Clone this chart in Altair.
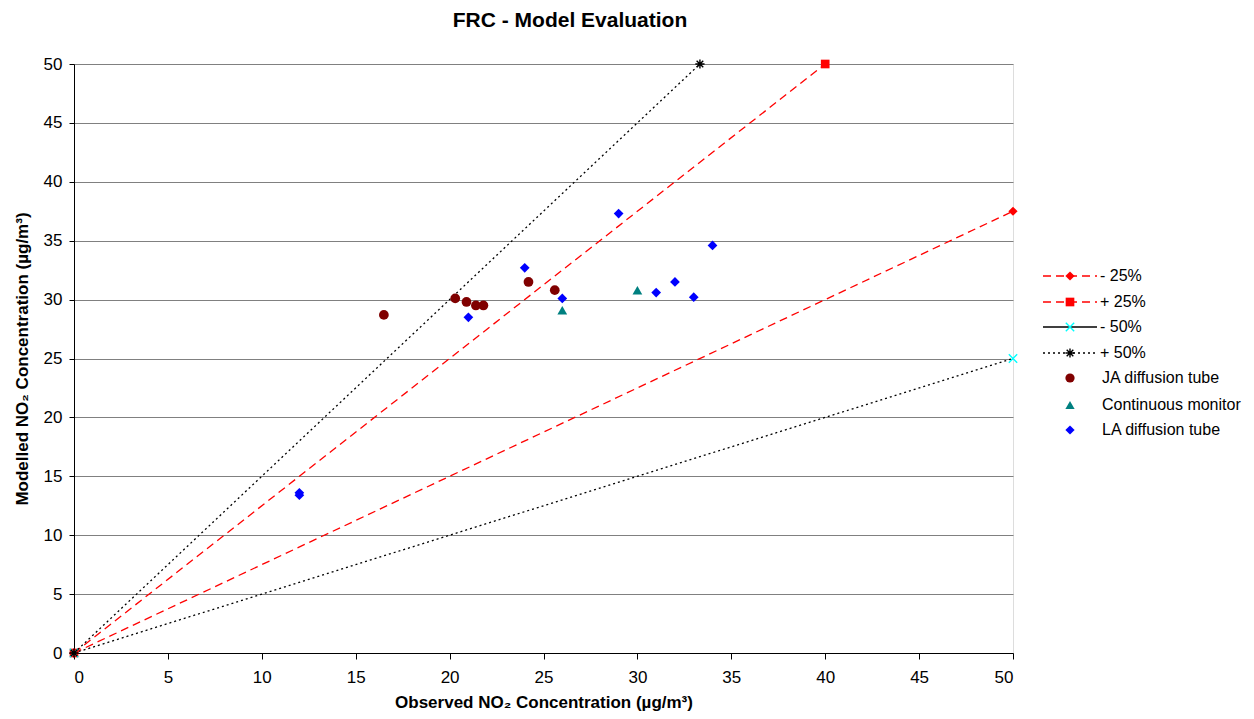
import altair as alt
import pandas as pd

# ---------------- data ----------------
ja_obs = [16.5, 20.3, 20.9, 21.4, 21.8, 24.2, 25.6]
ja_mod = [28.7, 30.1, 29.8, 29.5, 29.5, 31.5, 30.8]

cm_obs = [26.0, 30.0]
cm_mod = [29.1, 30.8]

la_obs = [12.0, 12.0, 21.0, 24.0, 26.0, 29.0, 31.0, 32.0, 33.0, 34.0]
la_mod = [13.6, 13.4, 28.5, 32.7, 30.1, 37.3, 30.6, 31.5, 30.2, 34.6]

ref_names = ["- 25%", "+ 25%", "- 50%", "+ 50%"]
ref_x0 = [0, 0, 0, 0]
ref_y0 = [0, 0, 0, 0]
ref_x1 = [50, 40, 50, 33.33]
ref_y1 = [37.5, 50, 25, 50]

point_names = ["JA diffusion tube", "Continuous monitor", "LA diffusion tube"]

FONT = "Liberation Sans"
W, H = 939, 589

STAR = "M-1,0L1,0M0,-1L0,1M-0.72,-0.72L0.72,0.72M-0.72,0.72L0.72,-0.72"
XMARK = "M-1,-1L1,1M-1,1L1,-1"

# styles per reference line: (color, dash, marker shape, marker fill, marker color, marker size)
ref_styles = [
    ("#FF0000", [8, 5], "diamond", True, "#FF0000", 85),
    ("#FF0000", [8, 5], "square", True, "#FF0000", 75),
    ("#000000", [2, 3], XMARK, False, "#00FFFF", 70),
    ("#000000", [2, 3], STAR, False, "#000000", 85),
]
legend_line_dash = [[8, 5], [8, 5], None, [2, 3]]

xscale = alt.Scale(domain=[0, 50], nice=False, zero=False)
yscale = alt.Scale(domain=[0, 50], nice=False, zero=False)

xaxis = alt.Axis(
    values=list(range(0, 51, 5)), grid=False, tickSize=6, tickColor="#000000",
    domainColor="#000000", labelPadding=10, labelFontSize=17, labelColor="#000000",
    title="Observed NO₂ Concentration (µg/m³)", titleFontSize=17, titleFontWeight="bold",
    titleColor="#000000", titleY=54, titleBaseline="alphabetic",
)
yaxis = alt.Axis(
    values=list(range(0, 51, 5)), grid=True, gridColor="#808080", tickSize=5,
    tickColor="#000000", domainColor="#000000", labelPadding=7, labelFontSize=17,
    labelColor="#000000",
    title="Modelled NO₂ Concentration (µg/m³)", titleFontSize=17, titleFontWeight="bold",
    titleColor="#000000", titleX=-47, titleBaseline="alphabetic",
)

X = alt.X("obs:Q", scale=xscale, axis=xaxis)
Y = alt.Y("mod:Q", scale=yscale, axis=yaxis)

layers = []

# reference lines
for i, name in enumerate(ref_names):
    color, dash, shape, filled, mcolor, msize = ref_styles[i]
    df = pd.DataFrame({"obs": [ref_x0[i], ref_x1[i]], "mod": [ref_y0[i], ref_y1[i]], "s": [name, name]})
    line = alt.Chart(df).mark_line(color=color, strokeDash=dash, strokeWidth=1.3).encode(x=X, y=Y)
    if filled:
        pts = alt.Chart(df).mark_point(shape=shape, filled=True, color=mcolor, size=msize, opacity=1).encode(x=X, y=Y)
    else:
        pts = alt.Chart(df).mark_point(shape=shape, filled=False, color=mcolor, size=msize,
                                       strokeWidth=1.4, opacity=1).encode(x=X, y=Y)
    layers += [line, pts]

# observed vs modelled points
ja = pd.DataFrame({"obs": ja_obs, "mod": ja_mod})
cm = pd.DataFrame({"obs": cm_obs, "mod": cm_mod})
la = pd.DataFrame({"obs": la_obs, "mod": la_mod})
layers.append(alt.Chart(ja).mark_point(shape="circle", filled=True, color="#800000", size=95, opacity=1).encode(x=X, y=Y))
layers.append(alt.Chart(cm).mark_point(shape="triangle-up", filled=True, color="#008080", size=95, opacity=1).encode(x=X, y=Y))
layers.append(alt.Chart(la).mark_point(shape="diamond", filled=True, color="#0000FF", size=95, opacity=1).encode(x=X, y=Y))

# ---------------- legend (drawn manually) ----------------
one = pd.DataFrame({"a": [0]})
row_y = [212, 238, 263, 289, 314, 341, 366]
lx1, lx2, mx, tx = 969, 1023, 996, 1026
LEG_FS = 16

for i, name in enumerate(ref_names):
    color, dash, shape, filled, mcolor, msize = ref_styles[i]
    ry = row_y[i]
    rule_kw = dict(color=color, strokeWidth=1.3)
    if legend_line_dash[i] is not None:
        rule_kw["strokeDash"] = legend_line_dash[i]
    layers.append(alt.Chart(one).mark_rule(**rule_kw).encode(
        x=alt.value(lx1), x2=alt.value(lx2), y=alt.value(ry)))
    if filled:
        layers.append(alt.Chart(one).mark_point(shape=shape, filled=True, color=mcolor, size=msize, opacity=1).encode(
            x=alt.value(mx), y=alt.value(ry)))
    else:
        layers.append(alt.Chart(one).mark_point(shape=shape, filled=False, color=mcolor, size=msize,
                                                strokeWidth=1.4, opacity=1).encode(x=alt.value(mx), y=alt.value(ry)))
    layers.append(alt.Chart(one).mark_text(text=name, align="left", baseline="middle", fontSize=LEG_FS,
                                           font=FONT, color="#000000").encode(x=alt.value(tx), y=alt.value(ry)))

pt_styles = [("circle", "#800000"), ("triangle-up", "#008080"), ("diamond", "#0000FF")]
for j, name in enumerate(point_names):
    ry = row_y[4 + j]
    shape, color = pt_styles[j]
    layers.append(alt.Chart(one).mark_point(shape=shape, filled=True, color=color, size=85, opacity=1).encode(
        x=alt.value(mx), y=alt.value(ry)))
    layers.append(alt.Chart(one).mark_text(text=name, align="left", baseline="middle", fontSize=LEG_FS,
                                           font=FONT, color="#000000").encode(x=alt.value(tx + 2), y=alt.value(ry)))

# chart title
layers.append(alt.Chart(one).mark_text(text="FRC - Model Evaluation", align="center", baseline="middle",
                                       fontSize=21, fontWeight="bold", font=FONT, color="#000000").encode(
    x=alt.value(496), y=alt.value(-43)))

chart = alt.layer(*layers).properties(
    width=W, height=H,
    autosize=alt.AutoSizeParams(type="none"),
    padding={"left": 66, "top": 56, "right": 233, "bottom": 58},
).configure_view(
    stroke="#808080", strokeWidth=1.5
).configure_axis(
    labelFont=FONT, titleFont=FONT
).configure(background="#FFFFFF")

chart.save("out.html", embed_options={"renderer": "svg", "actions": False})
